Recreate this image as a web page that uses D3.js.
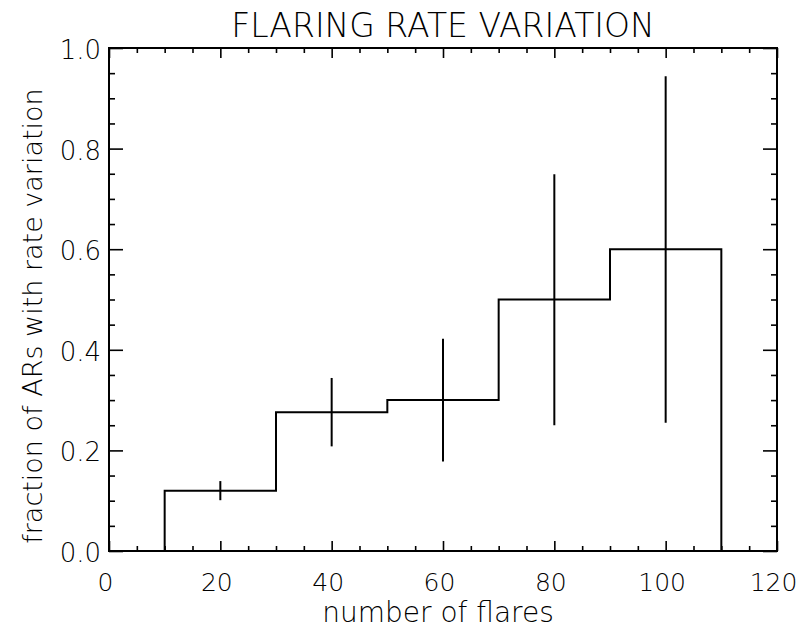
<!DOCTYPE html>
<html>
<head>
<meta charset="utf-8">
<script src="https://cdn.jsdelivr.net/npm/d3@7"></script>
<style>
  body { margin: 0; background: #fff; }
  svg text { font-family: "DejaVu Sans", sans-serif; font-weight: 200; fill: #000; }
</style>
</head>
<body>
<div id="chart"></div>
<script>
/* DATA */
const binEdges = [10, 30, 50, 70, 90, 110];
const fractions = [0.12, 0.276, 0.30, 0.50, 0.60];
const errCenters = [20, 40, 60, 80, 100];
const errLow = [0.101, 0.208, 0.178, 0.250, 0.255];
const errHigh = [0.139, 0.344, 0.422, 0.749, 0.944];
const xTicks = [0, 20, 40, 60, 80, 100, 120];
const yTicks = [0.0, 0.2, 0.4, 0.6, 0.8, 1.0];

/* CONSTANTS */
const width = 800,
  height = 632,
  margin = { top: 48, bottom: 81, left: 109, right: 23 };

const svg = d3.select("#chart")
  .append("svg")
  .attr("width", width)
  .attr("height", height);

const xScale = d3.scaleLinear()
  .domain([0, 120])
  .range([margin.left, width - margin.right]);

const yScale = d3.scaleLinear()
  .domain([0, 1])
  .range([height - margin.bottom, margin.top]);

const xMinor = d3.range(0, 121, 5).filter(v => v % 20 !== 0);
const yMinor = d3.range(0, 21).map(i => i * 0.05).filter((v, i) => i % 4 !== 0);

// axes: ticks point inward, all four sides
function addAxis(axis, tx, ty, cls) {
  const g = svg.append("g")
    .attr("class", cls)
    .attr("transform", `translate(${tx}, ${ty})`)
    .call(axis);
  g.select(".domain").remove();
  g.selectAll("line").attr("stroke", "#000").attr("stroke-width", 1.6);
  return g;
}

const plotBottom = height - margin.bottom,
  plotTop = margin.top,
  plotLeft = margin.left,
  plotRight = width - margin.right;

// bottom
addAxis(d3.axisBottom(xScale).tickValues(xTicks).tickSizeInner(-10).tickSizeOuter(0).tickPadding(22)
  .tickFormat(d3.format("d")), 0, plotBottom, "xAxis")
  .selectAll("text").attr("font-size", 25).attr("dx", -4);
addAxis(d3.axisBottom(xScale).tickValues(xMinor).tickSizeInner(-5).tickSizeOuter(0).tickFormat(""), 0, plotBottom, "xMinor");
// top
addAxis(d3.axisTop(xScale).tickValues(xTicks).tickSizeInner(-10).tickSizeOuter(0).tickFormat(""), 0, plotTop, "xTop");
addAxis(d3.axisTop(xScale).tickValues(xMinor).tickSizeInner(-5).tickSizeOuter(0).tickFormat(""), 0, plotTop, "xTopMinor");
// left
addAxis(d3.axisLeft(yScale).tickValues(yTicks).tickSizeInner(-14).tickSizeOuter(0).tickPadding(8)
  .tickFormat(d3.format(".1f")), plotLeft, 0, "yAxis")
  .selectAll("text").attr("font-size", 26).attr("dy", "0.4em");
addAxis(d3.axisLeft(yScale).tickValues(yMinor).tickSizeInner(-6).tickSizeOuter(0).tickFormat(""), plotLeft, 0, "yMinor");
// right
addAxis(d3.axisRight(yScale).tickValues(yTicks).tickSizeInner(-14).tickSizeOuter(0).tickFormat(""), plotRight, 0, "yRight");
addAxis(d3.axisRight(yScale).tickValues(yMinor).tickSizeInner(-6).tickSizeOuter(0).tickFormat(""), plotRight, 0, "yRightMinor");

// frame
svg.append("rect")
  .attr("x", plotLeft)
  .attr("y", plotTop)
  .attr("width", plotRight - plotLeft)
  .attr("height", plotBottom - plotTop)
  .attr("fill", "none")
  .attr("stroke", "#000")
  .attr("stroke-width", 2);

// step histogram
const stepPts = [[binEdges[0], 0]];
fractions.forEach((f, i) => {
  stepPts.push([binEdges[i], f]);
  stepPts.push([binEdges[i + 1], f]);
});
stepPts.push([binEdges[binEdges.length - 1], 0]);

svg.append("path")
  .datum(stepPts)
  .attr("fill", "none")
  .attr("stroke", "#000")
  .attr("stroke-width", 2)
  .attr("d", d3.line().x(d => xScale(d[0])).y(d => yScale(d[1])));

// error bars
svg.selectAll("line.err")
  .data(errCenters)
  .join("line")
  .attr("class", "err")
  .attr("x1", d => xScale(d))
  .attr("x2", d => xScale(d))
  .attr("y1", (d, i) => yScale(errLow[i]))
  .attr("y2", (d, i) => yScale(errHigh[i]))
  .attr("stroke", "#000")
  .attr("stroke-width", 2);

// labels
svg.append("text")
  .attr("x", (plotLeft + plotRight) / 2)
  .attr("y", 37)
  .attr("text-anchor", "middle")
  .attr("font-size", 33)
  .text("FLARING RATE VARIATION");

svg.append("text")
  .attr("x", 438)
  .attr("y", 622)
  .attr("text-anchor", "middle")
  .attr("font-size", 28)
  .text("number of flares");

svg.append("text")
  .attr("transform", `translate(42, 316) rotate(-90)`)
  .attr("text-anchor", "middle")
  .attr("font-size", 27)
  .text("fraction of ARs with rate variation");
</script>
</body>
</html>
